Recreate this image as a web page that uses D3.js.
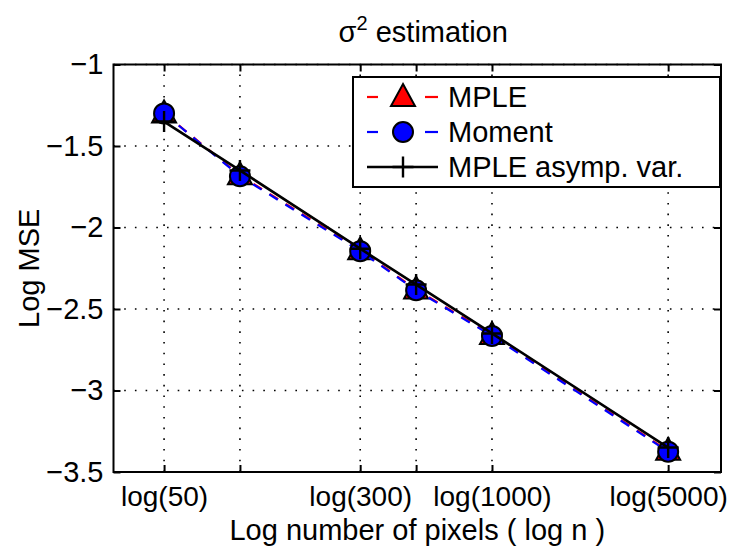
<!DOCTYPE html>
<html><head><meta charset="utf-8">
<script src="https://cdn.jsdelivr.net/npm/d3@7"></script>
<style>
body{margin:0;background:#fff}
text{font-family:"Liberation Sans",Arial,Helvetica,sans-serif;fill:#000}
</style></head>
<body><svg id="c" width="739" height="550"></svg>
<script>
// ---- data ----
const nValues = [50, 100, 300, 500, 1000, 5000];
const xTickN = [50, 100, 300, 500, 1000, 5000];
const xTickLabels = ["log(50)", "", "log(300)", "", "log(1000)", "log(5000)"];
const mpleValues = [-1.30, -1.68, -2.14, -2.38, -2.66, -3.37];
const momentValues = [-1.30, -1.685, -2.145, -2.385, -2.665, -3.375];
const asympValues = [-1.35, -1.65, -2.13, -2.35, -2.65, -3.35];
const yTicks = [-1, -1.5, -2, -2.5, -3, -3.5];
const seriesNames = ["MPLE", "Moment", "MPLE asymp. var."];

const svg = d3.select("#c");
const L = 113.5, R = 721, T = 64.5, B = 472;
const FS = 29;
const x = d3.scaleLinear().domain([3.45, 9.0]).range([L, R]);
const y = d3.scaleLinear().domain([-3.5, -1]).range([B, T]);

// grid
const grid = svg.append("g").attr("stroke", "#000").attr("stroke-width", 1.6)
  .attr("stroke-dasharray", "1.6,9.1");
xTickN.forEach(n => {
  grid.append("line").attr("x1", x(Math.log(n))).attr("x2", x(Math.log(n)))
    .attr("y1", B).attr("y2", T);
});
yTicks.forEach(v => {
  grid.append("line").attr("x1", L).attr("x2", R).attr("y1", y(v)).attr("y2", y(v));
});

// axes via d3 axis (ticks inward, on all 4 sides)
const fmt = v => (v < 0 ? "\u2212" : "") + Math.abs(v);
const xb = svg.append("g").attr("transform", `translate(0,${B})`)
  .call(d3.axisBottom(x).tickValues(xTickN.map(n => Math.log(n)))
    .tickFormat((d, i) => xTickLabels[i]).tickSizeInner(-7).tickSizeOuter(0).tickPadding(14));
const xt = svg.append("g").attr("transform", `translate(0,${T})`)
  .call(d3.axisTop(x).tickValues(xTickN.map(n => Math.log(n)))
    .tickFormat("").tickSizeInner(-7).tickSizeOuter(0));
const yl = svg.append("g").attr("transform", `translate(${L},0)`)
  .call(d3.axisLeft(y).tickValues(yTicks).tickFormat(fmt).tickSizeInner(-7).tickSizeOuter(0).tickPadding(10));
const yr = svg.append("g").attr("transform", `translate(${R},0)`)
  .call(d3.axisRight(y).tickValues(yTicks).tickFormat("").tickSizeInner(-7).tickSizeOuter(0));
[xb, xt, yl, yr].forEach(g => {
  g.select(".domain").remove();
  g.selectAll(".tick line").attr("stroke", "#000").attr("stroke-width", 2);
  g.selectAll("text").attr("font-size", FS).attr("font-family", '"Liberation Sans",Arial,sans-serif').attr("fill", "#000");
});
xb.selectAll("text").attr("font-size", 28).attr("dy", "0.71em");

// data
const pts = vals => nValues.map((n, i) => [x(Math.log(n)), y(vals[i])]);
const line = d3.line();
const triPath = "M0,-13L12,9L-12,9Z";

function drawSeries(vals, color, dash, marker) {
  const p = pts(vals);
  svg.append("path").attr("d", line(p)).attr("fill", "none").attr("stroke", color)
    .attr("stroke-width", dash ? 2.2 : 2.6).attr("stroke-dasharray", dash || null);
  p.forEach(q => drawMarker(marker, q[0], q[1]));
}
function drawMarker(m, cx, cy) {
  if (m === "tri") {
    svg.append("path").attr("d", triPath).attr("transform", `translate(${cx},${cy})`)
      .attr("fill", "#f00").attr("stroke", "#000").attr("stroke-width", 2);
  } else if (m === "circ") {
    svg.append("circle").attr("cx", cx).attr("cy", cy).attr("r", 10)
      .attr("fill", "#00f").attr("stroke", "#000").attr("stroke-width", 2);
  } else {
    svg.append("path").attr("d", `M${cx - 10.5},${cy}H${cx + 10.5}M${cx},${cy - 10.5}V${cy + 10.5}`)
      .attr("stroke", "#000").attr("stroke-width", 2.4);
  }
}
drawSeries(mpleValues, "#f00", "10,9", "tri");
drawSeries(momentValues, "#00f", "10,9", "circ");
drawSeries(asympValues, "#000", null, "plus");

// box
svg.append("rect").attr("x", L).attr("y", T).attr("width", R - L).attr("height", B - T)
  .attr("fill", "none").attr("stroke", "#000").attr("stroke-width", 2);

// legend
const lg = svg.append("g");
lg.append("rect").attr("x", 353).attr("y", 77).attr("width", 367).attr("height", 110)
  .attr("fill", "#fff").attr("stroke", "#000").attr("stroke-width", 2);
const rows = [97, 132, 167];
const legendStyles = [["#f00", "tri"], ["#00f", "circ"], ["#000", "plus"]];
rows.forEach((ry, i) => {
  const [c, m] = legendStyles[i];
  if (m === "plus") {
    lg.append("line").attr("x1", 367).attr("x2", 438).attr("y1", ry).attr("y2", ry)
      .attr("stroke", c).attr("stroke-width", 2.4);
  } else {
    lg.append("line").attr("x1", 367).attr("x2", 378).attr("y1", ry).attr("y2", ry).attr("stroke", c).attr("stroke-width", 2.2);
    lg.append("line").attr("x1", 425).attr("x2", 438).attr("y1", ry).attr("y2", ry).attr("stroke", c).attr("stroke-width", 2.2);
  }
  drawMarker(m, 403, ry);
  lg.append("text").attr("x", 448).attr("y", ry).attr("dy", "0.36em").attr("font-size", FS).text(seriesNames[i]);
});

// title and labels
const t = svg.append("text").attr("x", (L + R) / 2 + 6).attr("y", 42).attr("text-anchor", "middle").attr("font-size", FS);
t.append("tspan").text("\u03C3");
t.append("tspan").attr("font-size", 20).attr("dy", -12).text("2");
t.append("tspan").attr("dy", 12).text(" estimation");
svg.append("text").attr("x", (L + R) / 2).attr("y", 540).attr("text-anchor", "middle").attr("font-size", 29)
  .text("Log number of pixels ( log n )");
svg.append("text").attr("transform", `translate(39,${(T + B) / 2}) rotate(-90)`).attr("text-anchor", "middle")
  .attr("font-size", FS).text("Log MSE");
</script></body></html>
